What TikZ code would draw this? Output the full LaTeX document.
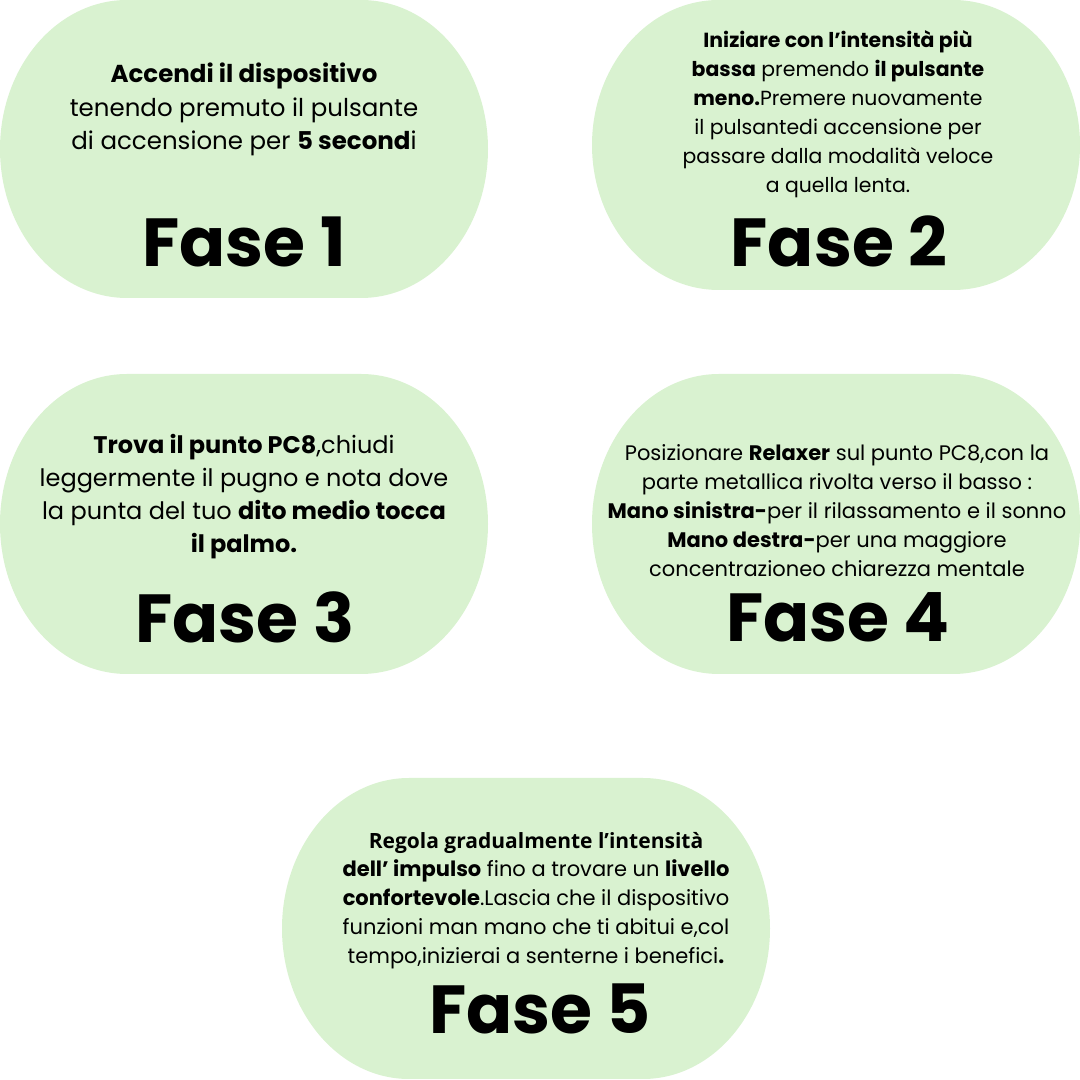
\documentclass[tikz,border=0pt]{standalone}
\usepackage{fontspec}
\setmainfont{Poppins}
\newfontfamily\opensans{Open Sans}
\definecolor{fasegreen}{RGB}{217,242,208}
\begin{document}
\begin{tikzpicture}[x=1pt, y=1pt,
        fase/.style={anchor=base, font=\fontsize{68}{68}\selectfont\bfseries},
        desc/.style={anchor=base, align=center, inner sep=0pt, font=\fontsize{24.5}{33.5}\selectfont},
        descsmall/.style={desc, font=\fontsize{21}{29}\selectfont}]
        \useasboundingbox (0, 0) rectangle (1080, 1080);
        
        \foreach \x/\y/\h in {0/782/298, 592/790/290, 0/406/300, 592/406/300, 282/1/301}
            \fill[fasegreen] (\x+127, \y) -- (\x+361, \y)
                arc[start angle=-90, end angle=90, x radius=127, y radius=\h/2]
                -- (\x+127, \y+\h)
                arc[start angle=90, end angle=270, x radius=127, y radius=\h/2] -- cycle;
        
        \node[desc] (desc1) at (244, 930) {\textbf{Accendi il dispositivo}\\ tenendo premuto il pulsante\\ di accensione per \textbf{5 second}i};
        \node[fase] (fase1) at (244, 813) {Fase 1};
        
        \node[descsmall, font=\fontsize{20.4}{29}\selectfont] (desc2) at (838, 887) {\textbf{Iniziare con l’intensità più}\\ \textbf{bassa} premendo \textbf{il pulsante}\\ \textbf{meno.}Premere nuovamente\\ il pulsantedi accensione per\\ passare dalla modalità veloce\\ a quella lenta.};
        \node[fase] (fase2) at (839, 813) {Fase 2};
        
        \node[desc, font=\fontsize{24}{33}\selectfont] (desc3) at (244, 527) {\textbf{Trova il punto PC8},chiudi\\ leggermente il pugno e nota dove\\ la punta del tuo \textbf{dito medio tocca}\\ \textbf{il palmo.}};
        \node[fase] (fase3) at (245, 437) {Fase 3};
        
        \node[descsmall] (desc4) at (837, 503) {Posizionare \textbf{Relaxer} sul punto PC8,con la\\ parte metallica rivolta verso il basso :\\ \textbf{Mano sinistra-}per il rilassamento e il sonno\\ \textbf{Mano destra-}per una maggiore\\ concentrazioneo chiarezza mentale};
        \node[fase] (fase4) at (838, 438) {Fase 4};
        
        \node[descsmall] (desc5) at (536, 116) {{\opensans\bfseries Regola gradualmente l’intensità}\\ \textbf{dell’ impulso} fino a trovare un \textbf{livello}\\ \textbf{confortevole}.Lascia che il dispositivo\\ funzioni man mano che ti abitui e,col\\ tempo,inizierai a senterne i benefici\textbf{.}};
        \node[fase] (fase5) at (540, 46) {Fase 5};
    \end{tikzpicture}
\end{document}
